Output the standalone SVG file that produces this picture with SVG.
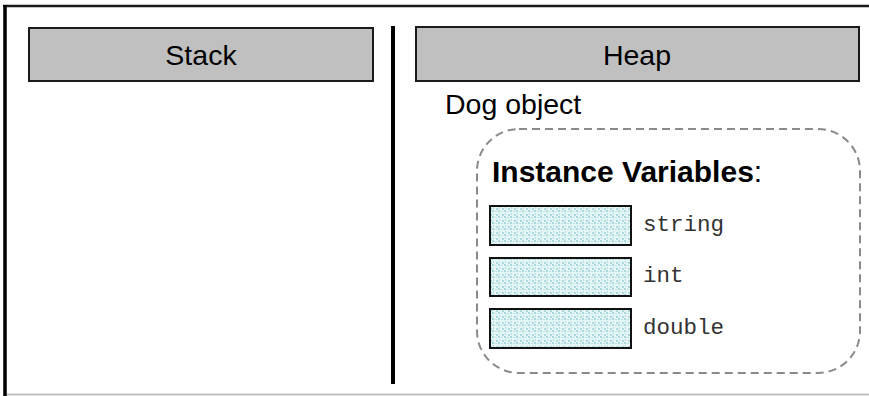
<svg xmlns="http://www.w3.org/2000/svg" width="869" height="396" viewBox="0 0 869 396">
<style>
.hdr{fill:#c0c0c0;stroke:#1a1a1a;stroke-width:2}
.htxt{font-family:"Liberation Sans",Arial,sans-serif;font-size:28.5px;fill:#000;text-anchor:middle}
.txt{font-family:"Liberation Sans",Arial,sans-serif;font-size:28.5px;fill:#000}
.mono{font-family:"Liberation Mono","Courier New",monospace;font-size:22.5px;fill:#333}
.field{fill:url(#stip);stroke:#111;stroke-width:2}
</style>
<defs>
<pattern id="stip" width="6" height="6" patternUnits="userSpaceOnUse">
<rect width="6" height="6" fill="#e6f5f6"/>
<rect x="0" y="0" width="2" height="2" fill="#a9d9dc"/>
<rect x="3" y="1" width="2" height="1" fill="#b8e0e2"/>
<rect x="1" y="3" width="1" height="2" fill="#b8e0e2"/>
<rect x="4" y="4" width="2" height="2" fill="#a9d9dc"/>
</pattern>
</defs>
<rect width="869" height="396" fill="#fff"/>
<g id="frame">
<line x1="3" y1="6" x2="869" y2="6" stroke="#1a1a1a" stroke-width="2.5"/>
<line x1="5" y1="5" x2="5" y2="396" stroke="#000" stroke-width="3.5"/>
<line x1="7" y1="394.5" x2="869" y2="394.5" stroke="#c0c0c0" stroke-width="2"/>
</g>
<g id="stack">
<rect class="hdr" x="29" y="28" width="344" height="53"/>
<text class="htxt" x="201" y="65">Stack</text>
</g>
<g id="divider">
<line x1="393" y1="26" x2="393" y2="384" stroke="#000" stroke-width="4"/>
</g>
<g id="heap">
<rect class="hdr" x="416" y="27" width="443" height="54"/>
<text class="htxt" x="637" y="65">Heap</text>
</g>
<g id="dog">
<text class="txt" x="445" y="114">Dog object</text>
<rect x="477" y="129" width="383" height="244" rx="42" ry="42" fill="none" stroke="#8a8a8a" stroke-width="2" stroke-dasharray="8,5"/>
<text class="txt" x="492" y="182" style="font-size:30px"><tspan font-weight="bold">Instance Variables</tspan>:</text>
</g>
<g id="field-string">
<rect class="field" x="490" y="206" width="141" height="39"/>
<text class="mono" x="643" y="231">string</text>
</g>
<g id="field-int">
<rect class="field" x="490" y="258" width="141" height="38"/>
<text class="mono" x="643" y="282">int</text>
</g>
<g id="field-double">
<rect class="field" x="490" y="309" width="141" height="39"/>
<text class="mono" x="643" y="334">double</text>
</g>
<g id="connectors"></g>
</svg>
